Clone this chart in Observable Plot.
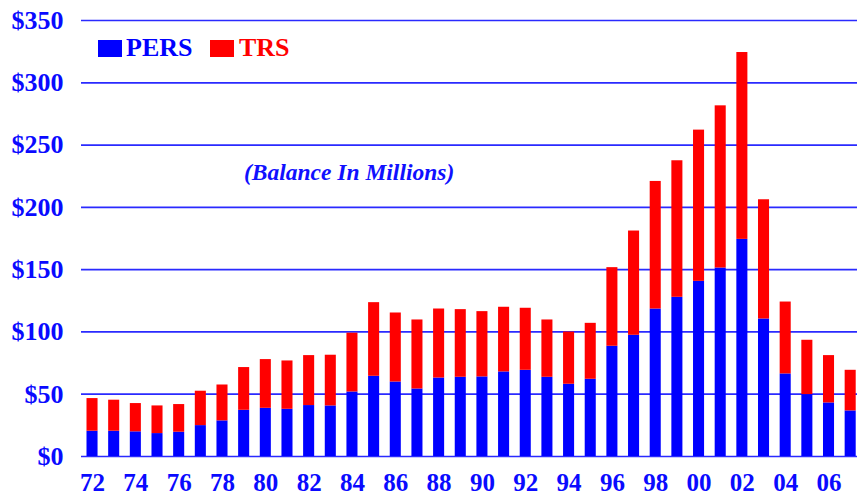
<!DOCTYPE html>
<html>
<head>
<meta charset="utf-8">
<script src="https://cdn.jsdelivr.net/npm/d3@7"></script>
<script src="https://cdn.jsdelivr.net/npm/@observablehq/plot@0.6"></script>
<style>
  html, body { margin: 0; padding: 0; background: #fff; }
  #wrap { position: relative; width: 857px; height: 497px; font-family: "Liberation Serif", "Times New Roman", serif; }
  #wrap svg { position: absolute; left: 0; top: 0; }
  .sw { position: absolute; width: 24px; height: 17px; }
  .lt { position: absolute; font-size: 26px; font-weight: bold; line-height: 1; white-space: nowrap; }
  #sub { position: absolute; left: 244px; top: 161px; font-size: 23.5px; font-weight: bold; font-style: italic; color: #1010ff; line-height: 1; white-space: nowrap; }
</style>
</head>
<body>
<div id="wrap"></div>
<script>
const years = ["72","73","74","75","76","77","78","79","80","81","82","83","84","85","86","87","88","89",
               "90","91","92","93","94","95","96","97","98","99","00","01","02","03","04","05","06","07"];
const pers = [20.3,20.3,19.8,18.4,19.5,24.8,28.6,37.1,38.7,37.9,40.9,40.6,51.8,64.4,59.8,54.2,63.0,63.6,
              63.9,67.9,69.2,63.6,58.0,62.0,88.5,97.3,118.4,127.8,140.6,151.3,174.3,110.4,66.3,49.7,43.0,36.6];
const trs  = [26.2,24.9,22.7,22.2,22.2,27.6,28.8,34.3,39.1,38.8,40.1,40.7,47.2,59.1,55.4,55.4,55.4,54.3,
              52.4,51.9,49.8,46.0,41.9,44.9,63.1,83.7,102.4,109.6,121.4,130.2,150.0,95.7,57.7,43.6,38.0,32.6];
const seriesNames = ["PERS", "TRS"];
const seriesColors = ["#0000ff", "#ff0000"];
const yTicks = [0, 50, 100, 150, 200, 250, 300, 350];
const xTicks = years.filter((d, i) => i % 2 === 0);

const data = [];
years.forEach((y, i) => {
  data.push({year: y, series: "PERS", value: pers[i]});
  data.push({year: y, series: "TRS", value: trs[i]});
});

const chart = Plot.plot({
  width: 857,
  height: 497,
  marginLeft: 81,
  marginRight: 0,
  marginTop: 20,
  marginBottom: 41,
  style: {fontFamily: "Liberation Serif, Times New Roman, serif", fontSize: "26px", fontWeight: "bold", color: "#0a0aff", background: "#fff", overflow: "visible"},
  x: {type: "band", domain: years, range: [86.5, 855.7], paddingInner: 0.49, paddingOuter: 0, round: false, label: null},
  y: {domain: [0, 350], label: null},
  color: {domain: seriesNames, range: seriesColors},
  marks: [
    Plot.ruleY(yTicks, {stroke: "#2a2aff", strokeWidth: 1.7}),
    Plot.barY(data, {x: "year", y: "value", fill: "series", order: seriesNames}),
    Plot.axisY({ticks: yTicks, tickFormat: d => "$" + d, tickSize: 0, tickPadding: 18, fontSize: 26, label: null}),
    Plot.axisX({ticks: xTicks, tickSize: 0, tickPadding: 17, fontSize: 25, label: null})
  ]
});

const wrap = document.getElementById("wrap");
wrap.appendChild(chart);

// legend
const legendItems = [
  {name: seriesNames[0], color: seriesColors[0], sx: 98, tx: 126},
  {name: seriesNames[1], color: seriesColors[1], sx: 210, tx: 239}
];
legendItems.forEach(it => {
  const sw = document.createElement("div");
  sw.className = "sw";
  sw.style.left = it.sx + "px";
  sw.style.top = "40px";
  sw.style.background = it.color;
  wrap.appendChild(sw);
  const t = document.createElement("div");
  t.className = "lt";
  t.style.left = it.tx + "px";
  t.style.top = "35px";
  t.style.color = it.color;
  t.textContent = it.name;
  wrap.appendChild(t);
});

const sub = document.createElement("div");
sub.id = "sub";
sub.textContent = "(Balance In Millions)";
wrap.appendChild(sub);
</script>
</body>
</html>
